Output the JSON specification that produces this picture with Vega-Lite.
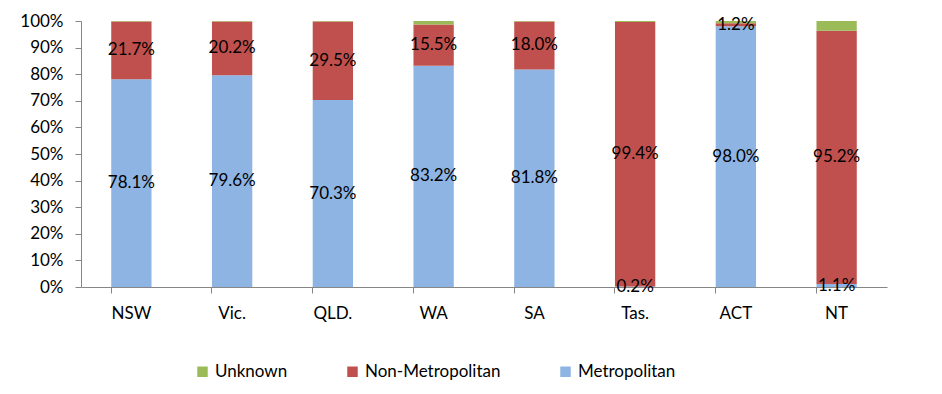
{
  "$schema": "https://vega.github.io/schema/vega-lite/v6.json",
  "autosize": {"type": "none"},
  "width": 806,
  "height": 266,
  "padding": {"left": 81, "top": 21, "right": 55, "bottom": 107},
  "background": "white",
  "config": {
    "view": {"stroke": null},
    "font": "Lato",
    "axis": {"labelFont": "Lato", "labelFontSize": 17, "labelColor": "#000000", "domainColor": "#868686", "tickColor": "#868686", "grid": false, "title": null},
    "legend": {"labelFont": "Lato", "labelFontSize": 17, "labelColor": "#000000"}
  },
  "data": {
    "values": [
      {"state": "NSW", "cat": "Metropolitan", "v": 78.1, "o": 1},
      {"state": "NSW", "cat": "Non-Metropolitan", "v": 21.7, "o": 2},
      {"state": "NSW", "cat": "Unknown", "v": 0.2, "o": 3},
      {"state": "Vic.", "cat": "Metropolitan", "v": 79.6, "o": 1},
      {"state": "Vic.", "cat": "Non-Metropolitan", "v": 20.2, "o": 2},
      {"state": "Vic.", "cat": "Unknown", "v": 0.2, "o": 3},
      {"state": "QLD.", "cat": "Metropolitan", "v": 70.3, "o": 1},
      {"state": "QLD.", "cat": "Non-Metropolitan", "v": 29.5, "o": 2},
      {"state": "QLD.", "cat": "Unknown", "v": 0.2, "o": 3},
      {"state": "WA", "cat": "Metropolitan", "v": 83.2, "o": 1},
      {"state": "WA", "cat": "Non-Metropolitan", "v": 15.5, "o": 2},
      {"state": "WA", "cat": "Unknown", "v": 1.3, "o": 3},
      {"state": "SA", "cat": "Metropolitan", "v": 81.8, "o": 1},
      {"state": "SA", "cat": "Non-Metropolitan", "v": 18.0, "o": 2},
      {"state": "SA", "cat": "Unknown", "v": 0.2, "o": 3},
      {"state": "Tas.", "cat": "Metropolitan", "v": 0.2, "o": 1},
      {"state": "Tas.", "cat": "Non-Metropolitan", "v": 99.4, "o": 2},
      {"state": "Tas.", "cat": "Unknown", "v": 0.4, "o": 3},
      {"state": "ACT", "cat": "Metropolitan", "v": 98.0, "o": 1},
      {"state": "ACT", "cat": "Non-Metropolitan", "v": 1.2, "o": 2},
      {"state": "ACT", "cat": "Unknown", "v": 0.8, "o": 3},
      {"state": "NT", "cat": "Metropolitan", "v": 1.1, "o": 1},
      {"state": "NT", "cat": "Non-Metropolitan", "v": 95.2, "o": 2},
      {"state": "NT", "cat": "Unknown", "v": 3.7, "o": 3}
    ]
  },
  "encoding": {
    "x": {"field": "state", "type": "nominal", "sort": null,
      "scale": {"paddingInner": 0.6, "paddingOuter": 0.3}}
  },
  "layer": [
    {
      "mark": {"type": "bar"},
      "encoding": {
        "x": {"field": "state", "type": "nominal", "sort": null,
          "axis": {"orient": "bottom", "labels": false, "bandPosition": 0, "tickSize": 6, "labelAngle": 0}},
        "y": {"field": "v", "type": "quantitative", "stack": "zero",
          "scale": {"domain": [0, 100], "nice": false},
          "axis": {"values": [0,10,20,30,40,50,60,70,80,90,100], "labelExpr": "datum.value + '%'", "tickSize": 6, "labelPadding": 12, "labelOverlap": false}},
        "color": {"field": "cat", "type": "nominal",
          "scale": {"domain": ["Unknown", "Non-Metropolitan", "Metropolitan"], "range": ["#9BBB59", "#C0504D", "#8EB4E3"]},
          "legend": {"orient": "none", "legendX": 113, "legendY": 342, "direction": "horizontal", "title": null, "symbolType": "square", "symbolSize": 110, "symbolStrokeWidth": 0, "columnPadding": 56, "labelOffset": 4}},
        "order": {"field": "o", "type": "quantitative"}
      }
    },
    {
      "transform": [
        {"filter": "datum.cat != 'Unknown'"},
        {"calculate": "format(datum.v, '.1f') + '%'", "as": "lbl"}
      ],
      "mark": {"type": "text", "fontSize": 17, "color": "#000000", "font": "Lato"},
      "encoding": {
        "x": {"field": "state", "type": "nominal", "sort": null,
          "axis": {"orient": "bottom", "ticks": false, "domain": false, "labelAngle": 0, "labelPadding": 18}},
        "y": {"field": "v", "type": "quantitative", "stack": "zero", "bandPosition": 0.5,
          "axis": {"values": [0,10,20,30,40,50,60,70,80,90,100], "labelExpr": "datum.value + '%'", "tickSize": 6, "labelPadding": 12, "labelOverlap": false}},
        "text": {"field": "lbl", "type": "nominal"},
        "order": {"field": "o", "type": "quantitative"}
      }
    }
  ],
  "resolve": {"axis": {"x": "independent"}}
}
